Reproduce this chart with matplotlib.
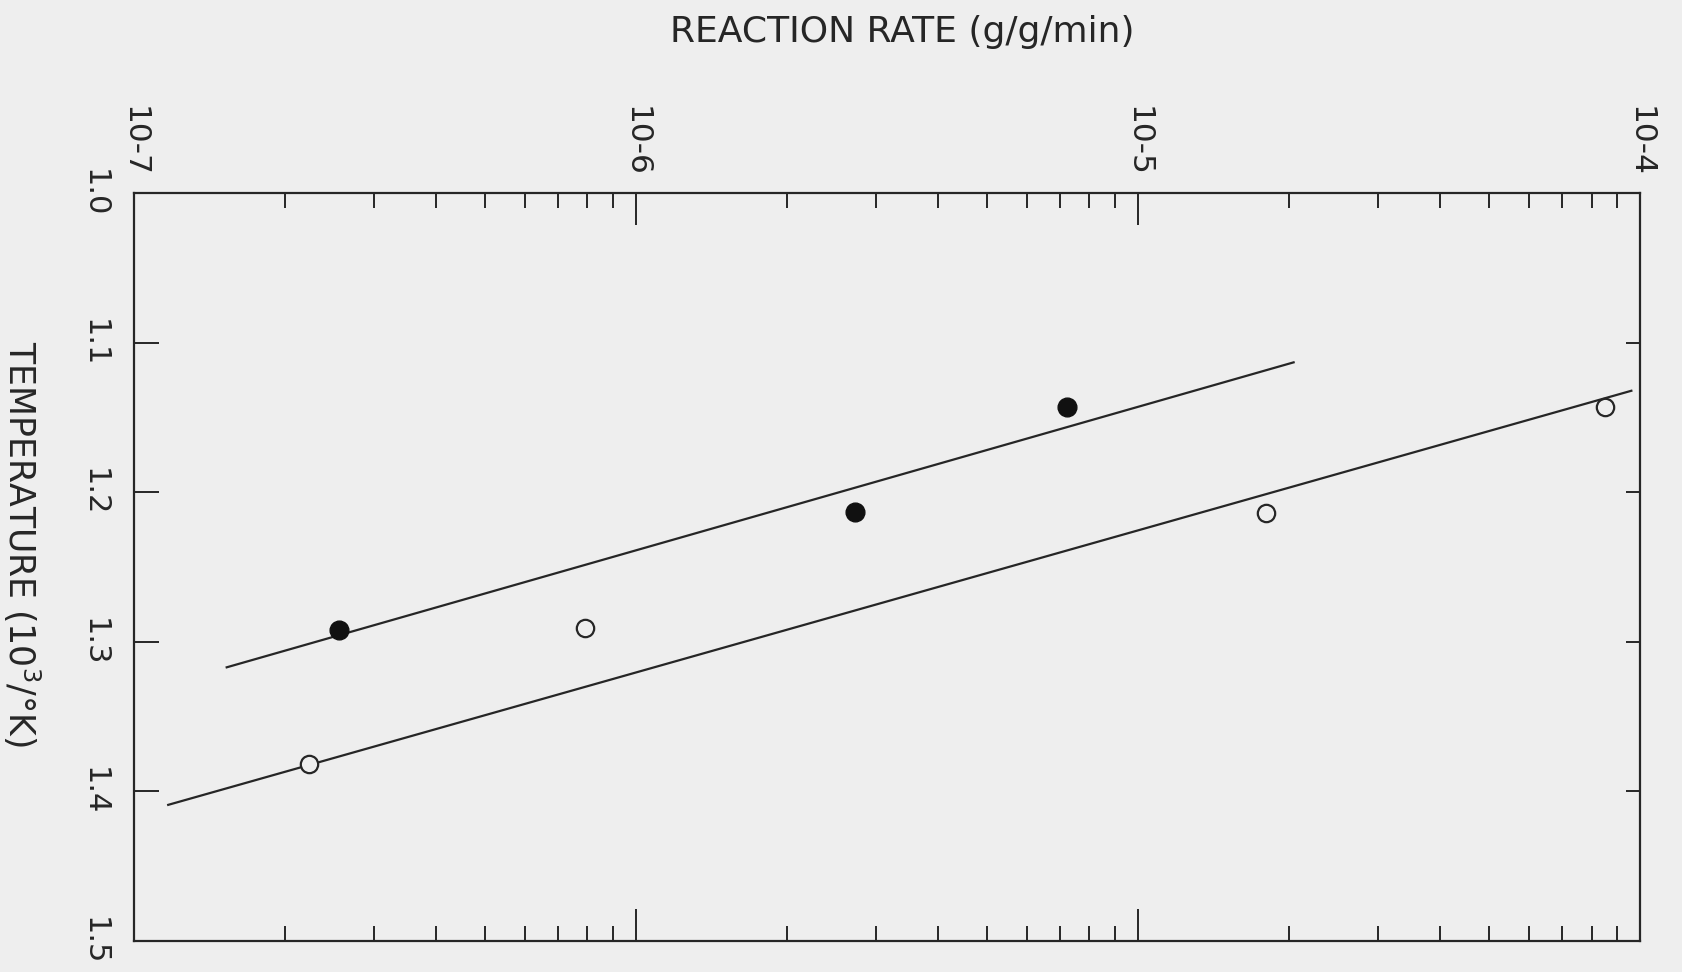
import numpy as np
import matplotlib
matplotlib.use("Agg")
import matplotlib.pyplot as plt
from matplotlib.ticker import LogLocator, NullFormatter, FixedLocator

# data
temp_filled = [1.292, 1.213, 1.143]
rate_filled = [2.56e-7, 2.73e-6, 7.2e-6]
temp_open = [1.382, 1.291, 1.214, 1.143]
rate_open = [2.23e-7, 7.9e-7, 1.80e-5, 8.5e-5]

# fitted lines (end points)
fit_upper_rate = [1.53e-7, 2.04e-5]
fit_upper_temp = [1.317, 1.113]
fit_lower_rate = [1.17e-7, 9.6e-5]
fit_lower_temp = [1.409, 1.132]

x_ticks = [1e-7, 1e-6, 1e-5, 1e-4]
x_labels = ["10-7", "10-6", "10-5", "10-4"]
y_ticks = [1.0, 1.1, 1.2, 1.3, 1.4, 1.5]
y_labels = ["1.0", "1.1", "1.2", "1.3", "1.4", "1.5"]

bg = "#eeeeee"
ink = "#262626"
plt.rcParams['font.family'] = ['DejaVu Sans']

fig = plt.figure(figsize=(16.83, 9.72), dpi=100, facecolor=bg)
ax = fig.add_axes([0.0796, 0.032, 0.895, 0.769])
ax.set_facecolor(bg)

ax.plot(fit_upper_rate, fit_upper_temp, color=ink, lw=1.6)
ax.plot(fit_lower_rate, fit_lower_temp, color=ink, lw=1.6)
ax.plot(rate_filled, temp_filled, "o", ms=13.5, color="#111111")
ax.plot(rate_open, temp_open, "o", ms=12.5, mfc=bg, mec=ink, mew=1.6)

ax.set_xscale("log")
ax.set_xlim(1e-7, 1e-4)
ax.set_ylim(1.5, 1.0)

ax.xaxis.tick_top()
ax.xaxis.set_major_locator(FixedLocator(x_ticks))
ax.xaxis.set_minor_locator(LogLocator(subs=range(2, 10)))
ax.xaxis.set_minor_formatter(NullFormatter())
ax.set_xticklabels(x_labels, rotation=-90, fontsize=22.5, color=ink)
ax.tick_params(axis="x", which="both", direction="in", top=True, bottom=True,
               color=ink, width=1.4)
ax.tick_params(axis="x", which="major", length=23, pad=12)
ax.tick_params(axis="x", which="minor", length=11)

ax.set_yticks(y_ticks)
ax.set_yticklabels(y_labels, rotation=-90, fontsize=22, color=ink, va="center")
ax.tick_params(axis="y", which="both", direction="in", left=True, right=False,
               length=18, width=1.4, color=ink, pad=18)
sec = ax.secondary_yaxis("right")
sec.set_yticks(y_ticks[1:-1])
sec.tick_params(direction="in", length=10, width=1.4, color=ink, labelright=False)
sec.spines["right"].set_visible(False)

for s in ax.spines.values():
    s.set_linewidth(1.6)
    s.set_color(ink)

fig.text(0.536, 0.967, "REACTION RATE (g/g/min)", fontsize=26, color=ink,
         ha="center", va="center")
fig.text(0.0127, 0.44, "TEMPERATURE (10$^3$/°K)", fontsize=25, color=ink,
         rotation=-90, ha="center", va="center")

fig.savefig("out.png", dpi=100, facecolor=bg)
